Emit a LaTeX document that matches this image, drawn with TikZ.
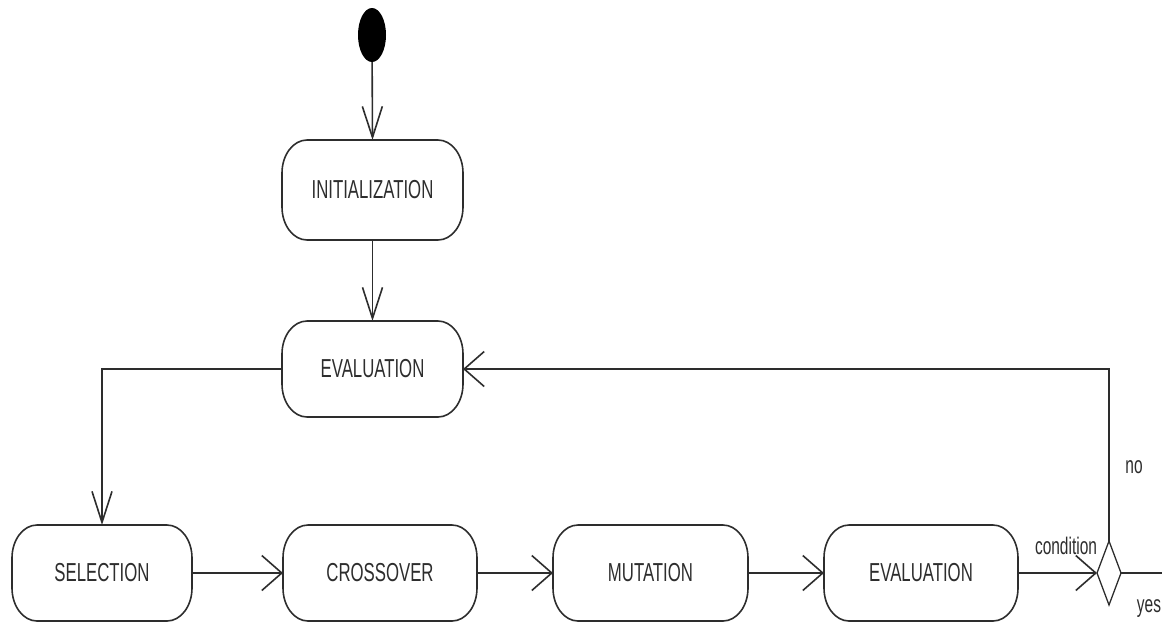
\documentclass[tikz,border=0pt]{standalone}
\usepackage{fontspec}
\setmainfont{Liberation Sans}
\newfontfamily\narrowfont[FakeStretch=0.645]{Liberation Sans}
\usetikzlibrary{arrows.meta,shapes.geometric}

\definecolor{ink}{RGB}{45,45,45}

\tikzset{
  every picture/.style={x=1pt,y=1pt},
  conn/.style={draw=ink,line width=1.6pt},
  tipH/.style={-{Straight Barb[length=20pt,width=35pt,line width=1.6pt]}},
  tipV/.style={-{Straight Barb[length=31pt,width=20pt,line width=1.6pt]}},
  activity/.style={inner sep=0pt,outer sep=0pt,minimum height=96pt,text=ink,
    font=\narrowfont\fontsize{26pt}{30pt}\selectfont},
  lbl/.style={inner sep=0pt,text=ink,font=\narrowfont\fontsize{24pt}{28pt}\selectfont},
  boxline/.style={draw=ink,line width=1.6pt}
}

\begin{document}
\begin{tikzpicture}
\useasboundingbox (0,0) rectangle (1162,-622);

% initial state
\node[ellipse,fill=black,inner sep=0pt,minimum width=28pt,minimum height=54pt] (start) at (372,-35) {};

% activities
\node[activity,minimum width=181pt,minimum height=100pt] (init)  at (372.5,-190) {INITIALIZATION};
\node[activity,minimum width=181pt] (eval1) at (372.5,-369) {EVALUATION};
\node[activity,minimum width=180pt] (sel)   at (102,-573)   {SELECTION};
\node[activity,minimum width=194pt] (cross) at (380,-573)   {CROSSOVER};
\node[activity,minimum width=195pt] (mut)   at (650.5,-573) {MUTATION};
\node[activity,minimum width=194pt] (eval2) at (921,-573)   {EVALUATION};

% rounded outlines of the activities
\foreach \n in {init,eval1,sel,cross,mut,eval2}{
  \draw[boxline] ([xshift=25pt]\n.north west) -- ([xshift=-25pt]\n.north east)
    arc[start angle=90,end angle=0,x radius=25pt,y radius=33pt]
    -- ([yshift=33pt]\n.south east)
    arc[start angle=0,end angle=-90,x radius=25pt,y radius=33pt]
    -- ([xshift=25pt]\n.south west)
    arc[start angle=270,end angle=180,x radius=25pt,y radius=33pt]
    -- ([yshift=-33pt]\n.north west)
    arc[start angle=180,end angle=90,x radius=25pt,y radius=33pt] -- cycle;
}

% decision
\node[draw=ink,line width=1.3pt,diamond,aspect=0.375,inner sep=0pt,outer sep=0pt,
      minimum width=24pt,minimum height=64pt,fill=white] (dec) at (1109,-573) {};
\coordinate (exit) at (1162,-573);

% flows
\draw[conn,tipV] (start) -- (init.north);
\draw[conn,tipV] (init.south) -- (eval1.north);
\draw[conn,tipV] (eval1.west) -| (sel.north);
\draw[conn,tipH] (sel.east) -- (cross.west);
\draw[conn,tipH] (cross.east) -- (mut.west);
\draw[conn,tipH] (mut.east) -- (eval2.west);
\draw[conn,tipH] (eval2.east) -- (dec.west);
\draw[conn,tipH] (dec.north) |- (eval1.east);
\draw[conn] (dec.east) -- (exit);

% guards
\node[lbl] (cond) at (1066,-546) {condition};
\node[lbl] (no)   at (1134,-467) {no};
\node[lbl] (yes)  at (1149,-609) {yes};
\end{tikzpicture}
\end{document}
